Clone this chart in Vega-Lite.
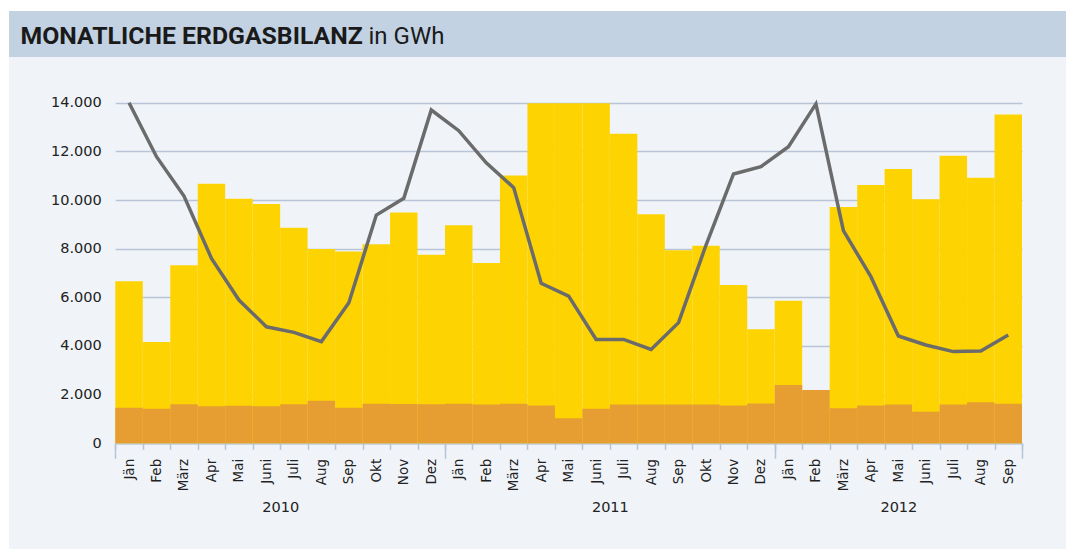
{
  "$schema": "https://vega.github.io/schema/vega-lite/v6.json",
  "background": "#ffffff",
  "padding": {"left": 2, "top": 11, "right": 7, "bottom": 0},
  "spacing": 0,
  "bounds": "flush",
  "config": {
    "view": {"stroke": null},
    "font": "DejaVu Sans"
  },
  "vconcat": [
    {
      "width": 1057,
      "height": 46,
      "view": {"fill": "#c2d2e3", "stroke": null},
      "data": {"values": []},
      "mark": {"type": "text"},
      "encoding": {}
    },
    {
      "width": 1057,
      "height": 492,
      "view": {"fill": "#f0f4f9", "stroke": null},
      "data": {
        "values": [
          {"m": "2010-01", "produktion": 1460, "gesamt": 6660, "verbrauch": 14000},
          {"m": "2010-02", "produktion": 1420, "gesamt": 4160, "verbrauch": 11780},
          {"m": "2010-03", "produktion": 1600, "gesamt": 7320, "verbrauch": 10160},
          {"m": "2010-04", "produktion": 1520, "gesamt": 10670, "verbrauch": 7600},
          {"m": "2010-05", "produktion": 1545, "gesamt": 10050, "verbrauch": 5890},
          {"m": "2010-06", "produktion": 1520, "gesamt": 9840, "verbrauch": 4790},
          {"m": "2010-07", "produktion": 1600, "gesamt": 8860, "verbrauch": 4560},
          {"m": "2010-08", "produktion": 1750, "gesamt": 7990, "verbrauch": 4180},
          {"m": "2010-09", "produktion": 1460, "gesamt": 7880, "verbrauch": 5780},
          {"m": "2010-10", "produktion": 1630, "gesamt": 8180, "verbrauch": 9380},
          {"m": "2010-11", "produktion": 1620, "gesamt": 9490, "verbrauch": 10070},
          {"m": "2010-12", "produktion": 1600, "gesamt": 7750, "verbrauch": 13700},
          {"m": "2011-01", "produktion": 1630, "gesamt": 8960, "verbrauch": 12850},
          {"m": "2011-02", "produktion": 1590, "gesamt": 7410, "verbrauch": 11530},
          {"m": "2011-03", "produktion": 1630, "gesamt": 11010, "verbrauch": 10510},
          {"m": "2011-04", "produktion": 1550, "gesamt": 13980, "verbrauch": 6580},
          {"m": "2011-05", "produktion": 1030, "gesamt": 13980, "verbrauch": 6050},
          {"m": "2011-06", "produktion": 1420, "gesamt": 13980, "verbrauch": 4270},
          {"m": "2011-07", "produktion": 1590, "gesamt": 12720, "verbrauch": 4270},
          {"m": "2011-08", "produktion": 1590, "gesamt": 9410, "verbrauch": 3860},
          {"m": "2011-09", "produktion": 1590, "gesamt": 7930, "verbrauch": 4960},
          {"m": "2011-10", "produktion": 1590, "gesamt": 8120, "verbrauch": 8150},
          {"m": "2011-11", "produktion": 1550, "gesamt": 6510, "verbrauch": 11070},
          {"m": "2011-12", "produktion": 1640, "gesamt": 4690, "verbrauch": 11370},
          {"m": "2012-01", "produktion": 2400, "gesamt": 5860, "verbrauch": 12190},
          {"m": "2012-02", "produktion": 2190, "gesamt": 2190, "verbrauch": 13950},
          {"m": "2012-03", "produktion": 1440, "gesamt": 9710, "verbrauch": 8740},
          {"m": "2012-04", "produktion": 1550, "gesamt": 10620, "verbrauch": 6850},
          {"m": "2012-05", "produktion": 1590, "gesamt": 11270, "verbrauch": 4410},
          {"m": "2012-06", "produktion": 1300, "gesamt": 10030, "verbrauch": 4040},
          {"m": "2012-07", "produktion": 1590, "gesamt": 11820, "verbrauch": 3770},
          {"m": "2012-08", "produktion": 1690, "gesamt": 10920, "verbrauch": 3790},
          {"m": "2012-09", "produktion": 1630, "gesamt": 13510, "verbrauch": 4450}
        ]
      },
      "resolve": {"axis": {"x": "independent"}},
      "layer": [
        {
          "mark": {"type": "bar", "color": "#fdd402"},
          "encoding": {
            "x": {
              "field": "m", "type": "ordinal",
              "scale": {"range": [106.3, 1013], "paddingInner": 0, "paddingOuter": 0},
              "axis": {
                "orient": "bottom", "offset": -105.7, "tickBand": "extent",
                "labelAngle": -90,
                "labelExpr": "['Jän','Feb','März','Apr','Mai','Juni','Juli','Aug','Sep','Okt','Nov','Dez'][toNumber(substring(datum.value,5,7))-1]",
                "labelFont": "DejaVu Sans", "labelFontSize": 13.5, "labelColor": "#222222",
                "labelPadding": 9, "labelOverlap": false,
                "tickSize": 6, "tickColor": "#b6c4d8", "tickWidth": 1.5,
                "domainColor": "#b6c4d8", "domainWidth": 1.5,
                "title": null, "grid": false
              }
            },
            "y": {
              "field": "gesamt", "type": "quantitative", "title": "in GWh",
              "scale": {"domain": [0, 14000], "range": [386.3, 45.7], "nice": false},
              "axis": {
                "orient": "left", "offset": -106.3,
                "values": [0, 2000, 4000, 6000, 8000, 10000, 12000, 14000],
                "labelExpr": "replace(format(datum.value, ','), ',', '.')",
                "domain": false, "ticks": false,
                "grid": true, "gridColor": "#b9c4d8", "gridWidth": 1.5,
                "labelFont": "DejaVu Sans", "labelFontSize": 14.5, "labelColor": "#222222",
                "labelPadding": 14,
                "titleAngle": 0, "titleX": 252.7, "titleY": -14,
                "titleAlign": "left", "titleBaseline": "alphabetic",
                "titleFont": "Roboto", "titleFontSize": 24, "titleFontWeight": "normal",
                "titleColor": "#1a1a1a"
              }
            }
          }
        },
        {
          "mark": {"type": "bar", "color": "#e69d32"},
          "encoding": {
            "x": {
              "field": "m", "type": "ordinal",
              "axis": {
                "orient": "bottom", "offset": -105.7, "tickBand": "extent",
                "values": ["2010-01", "2010-06", "2010-12", "2011-06", "2011-12", "2012-05", "2012-09"],
                "labelExpr": "datum.value == '2010-06' ? '2010' : datum.value == '2011-06' ? '2011' : datum.value == '2012-05' ? '2012' : ''",
                "labelOffset": {"condition": {"test": "datum.value == '2012-05'", "value": 0}, "value": 13.75},
                "labelAngle": 0, "labelFont": "DejaVu Sans", "labelFontSize": 14.5, "labelColor": "#222222",
                "labelPadding": 42, "labelOverlap": false,
                "tickSize": 15, "tickColor": "#b6c4d8", "tickWidth": 1.5,
                "tickOpacity": {"condition": {"test": "datum.value == '2010-01' || datum.value == '2010-06' || datum.value == '2011-06' || datum.value == '2012-05'", "value": 0}, "value": 1},
                "domain": false, "grid": false,
                "title": "MONATLICHE ERDGASBILANZ",
                "titleX": 11, "titleY": -400.3, "titleAngle": 0,
                "titleAlign": "left", "titleBaseline": "alphabetic",
                "titleFont": "Roboto", "titleFontSize": 24.8, "titleFontWeight": "bold",
                "titleColor": "#1a1a1a"
              }
            },
            "y": {"field": "produktion", "type": "quantitative", "title": "in GWh"}
          }
        },
        {
          "mark": {"type": "line", "color": "#6b6b6b", "strokeWidth": 3.5},
          "encoding": {
            "x": {"field": "m", "type": "ordinal", "axis": null},
            "y": {"field": "verbrauch", "type": "quantitative", "title": "in GWh"}
          }
        }
      ]
    }
  ]
}
